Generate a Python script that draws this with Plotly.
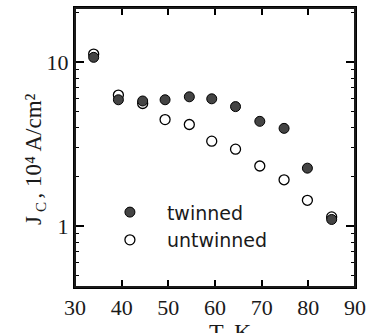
import plotly.graph_objects as go

T_twinned = [34, 39.3, 44.5, 49.3, 54.5, 59.3, 64.4, 69.6, 74.8, 79.8, 85]
Jc_twinned = [10.7, 5.9, 5.8, 5.9, 6.15, 5.98, 5.36, 4.36, 3.95, 2.26, 1.1]
T_untwinned = [34, 39.3, 44.5, 49.3, 54.5, 59.3, 64.4, 69.6, 74.8, 79.8, 85]
Jc_untwinned = [11.2, 6.3, 5.6, 4.47, 4.17, 3.3, 2.95, 2.33, 1.92, 1.44, 1.14]

x_ticks = [30, 40, 50, 60, 70, 80, 90]
y_ticks = [1, 10]
y_minor = [0.5, 0.6, 0.7, 0.8, 0.9, 2, 3, 4, 5, 6, 7, 8, 9, 20]

serif = "Liberation Serif, Times New Roman, serif"
ink = "black"
yrange = [-0.37, 1.33]

fig = go.Figure()
fig.add_trace(go.Scatter(
    x=T_untwinned, y=Jc_untwinned, mode="markers", name="untwinned",
    marker=dict(size=10, color="white", line=dict(color=ink, width=1.3)),
))
fig.add_trace(go.Scatter(
    x=T_twinned, y=Jc_twinned, mode="markers", name="twinned",
    marker=dict(size=10, color="#444", line=dict(color=ink, width=1)),
))

fig.update_layout(
    width=371, height=333,
    margin=dict(l=75, r=16, t=8, b=46, autoexpand=False),
    paper_bgcolor="white", plot_bgcolor="white",
    showlegend=True,
    legend=dict(
        x=0.064, y=0.336, xanchor="left", yanchor="top",
        traceorder="reversed",
        font=dict(family="DejaVu Sans", size=19, color="#1a1a1a"),
        bgcolor="rgba(0,0,0,0)", itemwidth=64, tracegroupgap=0,
    ),
    xaxis=dict(
        range=[30, 90], tickmode="array", tickvals=x_ticks, ticktext=[str(v) for v in x_ticks],
        ticks="inside", ticklen=7, tickwidth=1.5, tickcolor=ink,
        showline=True, linecolor=ink, linewidth=2, mirror="ticks",
        showgrid=False, zeroline=False, automargin=False,
        tickfont=dict(family=serif, size=22, color="#1a1a1a"),
    ),
    yaxis=dict(
        type="log", range=yrange, tickmode="array",
        tickvals=y_ticks, ticktext=["1", "10"],
        ticks="inside", ticklen=9, tickwidth=1.5, tickcolor=ink,
        minor=dict(ticks="inside", ticklen=4, tickwidth=1.3, tickcolor=ink,
                   tickmode="array", tickvals=y_minor, showgrid=False),
        showline=True, linecolor=ink, linewidth=2, mirror="ticks",
        showgrid=False, zeroline=False, automargin=False,
        tickfont=dict(family=serif, size=22, color="#1a1a1a"),
    ),
    shapes=[
        dict(type="rect", xref="paper", yref="paper", x0=0, x1=1, y0=0, y1=1,
             line=dict(color="#1a1a1a", width=2), fillcolor="rgba(0,0,0,0)", layer="above"),
    ],
    annotations=[
        dict(text="T, K", xref="paper", yref="paper", x=0.557, y=-0.108,
             xanchor="center", yanchor="top", showarrow=False,
             font=dict(family=serif, size=24, color="#1a1a1a")),
        dict(text="J", xref="paper", yref="paper", x=(33 - 75) / 280, y=(287 - 221) / 279,
             xanchor="center", yanchor="middle", showarrow=False, textangle=-90,
             font=dict(family=serif, size=23, color="#1a1a1a")),
        dict(text="C", xref="paper", yref="paper", x=(41 - 75) / 280, y=(287 - 207) / 279,
             xanchor="center", yanchor="middle", showarrow=False, textangle=-90,
             font=dict(family=serif, size=15, color="#1a1a1a")),
        dict(text=", 10⁴ A/cm²", xref="paper", yref="paper", x=(33 - 75) / 280, y=(287 - 201) / 279,
             xanchor="center", yanchor="bottom", showarrow=False, textangle=-90,
             font=dict(family=serif, size=23, color="#1a1a1a")),
    ],
)

fig.write_html("out.html", post_script="document.body.style.margin='0';",
               config={"displayModeBar": False})
